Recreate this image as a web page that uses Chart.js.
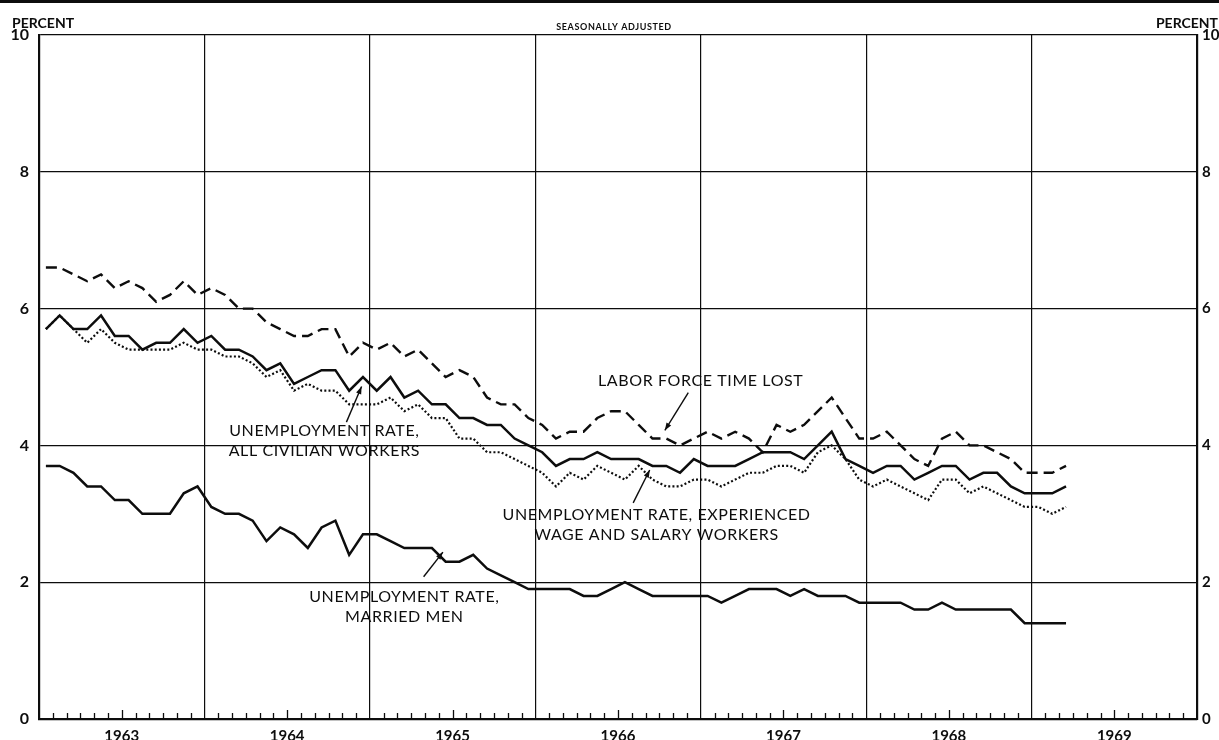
<!DOCTYPE html>
<html>
<head>
<meta charset="utf-8">
<script src="https://cdn.jsdelivr.net/npm/chart.js@4.4.1/dist/chart.umd.min.js"></script>
<style>
  html, body { margin: 0; padding: 0; background: #fff; }
  #wrap { position: relative; width: 1219px; height: 740px; overflow: hidden; }
  canvas { display: block; }
</style>
</head>
<body>
<div id="wrap"><canvas id="chart" width="1219" height="740"></canvas></div>
<script>
// monthly values, Jan 1963 - Mar 1969 (seasonally adjusted, percent)
const yearLabels = ['1963', '1964', '1965', '1966', '1967', '1968', '1969']
const yTicks = [0, 2, 4, 6, 8, 10]

const laborForceTimeLost = [
  6.6, 6.6, 6.5, 6.4, 6.5, 6.3, 6.4, 6.3, 6.1, 6.2, 6.4, 6.2,
  6.3, 6.2, 6.0, 6.0, 5.8, 5.7, 5.6, 5.6, 5.7, 5.7, 5.3, 5.5,
  5.4, 5.5, 5.3, 5.4, 5.2, 5.0, 5.1, 5.0, 4.7, 4.6, 4.6, 4.4,
  4.3, 4.1, 4.2, 4.2, 4.4, 4.5, 4.5, 4.3, 4.1, 4.1, 4.0, 4.1,
  4.2, 4.1, 4.2, 4.1, 3.9, 4.3, 4.2, 4.3, 4.5, 4.7, 4.4, 4.1,
  4.1, 4.2, 4.0, 3.8, 3.7, 4.1, 4.2, 4.0, 4.0, 3.9, 3.8, 3.6,
  3.6, 3.6, 3.7
]
const allCivilian = [
  5.7, 5.9, 5.7, 5.7, 5.9, 5.6, 5.6, 5.4, 5.5, 5.5, 5.7, 5.5,
  5.6, 5.4, 5.4, 5.3, 5.1, 5.2, 4.9, 5.0, 5.1, 5.1, 4.8, 5.0,
  4.8, 5.0, 4.7, 4.8, 4.6, 4.6, 4.4, 4.4, 4.3, 4.3, 4.1, 4.0,
  3.9, 3.7, 3.8, 3.8, 3.9, 3.8, 3.8, 3.8, 3.7, 3.7, 3.6, 3.8,
  3.7, 3.7, 3.7, 3.8, 3.9, 3.9, 3.9, 3.8, 4.0, 4.2, 3.8, 3.7,
  3.6, 3.7, 3.7, 3.5, 3.6, 3.7, 3.7, 3.5, 3.6, 3.6, 3.4, 3.3,
  3.3, 3.3, 3.4
]
const experiencedWage = [
  5.7, 5.9, 5.7, 5.5, 5.7, 5.5, 5.4, 5.4, 5.4, 5.4, 5.5, 5.4,
  5.4, 5.3, 5.3, 5.2, 5.0, 5.1, 4.8, 4.9, 4.8, 4.8, 4.6, 4.6,
  4.6, 4.7, 4.5, 4.6, 4.4, 4.4, 4.1, 4.1, 3.9, 3.9, 3.8, 3.7,
  3.6, 3.4, 3.6, 3.5, 3.7, 3.6, 3.5, 3.7, 3.5, 3.4, 3.4, 3.5,
  3.5, 3.4, 3.5, 3.6, 3.6, 3.7, 3.7, 3.6, 3.9, 4.0, 3.8, 3.5,
  3.4, 3.5, 3.4, 3.3, 3.2, 3.5, 3.5, 3.3, 3.4, 3.3, 3.2, 3.1,
  3.1, 3.0, 3.1
]
const marriedMen = [
  3.7, 3.7, 3.6, 3.4, 3.4, 3.2, 3.2, 3.0, 3.0, 3.0, 3.3, 3.4,
  3.1, 3.0, 3.0, 2.9, 2.6, 2.8, 2.7, 2.5, 2.8, 2.9, 2.4, 2.7,
  2.7, 2.6, 2.5, 2.5, 2.5, 2.3, 2.3, 2.4, 2.2, 2.1, 2.0, 1.9,
  1.9, 1.9, 1.9, 1.8, 1.8, 1.9, 2.0, 1.9, 1.8, 1.8, 1.8, 1.8,
  1.8, 1.7, 1.8, 1.9, 1.9, 1.9, 1.8, 1.9, 1.8, 1.8, 1.8, 1.7,
  1.7, 1.7, 1.7, 1.6, 1.6, 1.7, 1.6, 1.6, 1.6, 1.6, 1.6, 1.4,
  1.4, 1.4, 1.4
]

const FONT = 'Lato, "DejaVu Sans", sans-serif'
const INK = '#0d0d0d'

// points sit in the middle of each month
const toPoints = (arr) => arr.map((v, i) => ({ x: i + 0.5, y: v }))

// labels drawn on the plot, placed in data units (months, percent)
const notes = [
  { lines: ['LABOR FORCE TIME LOST'], x: 48.0, y: 4.95, arrow: [47.1, 4.77, 45.4, 4.22] },
  { lines: ['UNEMPLOYMENT RATE,', 'ALL CIVILIAN WORKERS'], x: 20.7, y: 4.21, arrow: [22.3, 4.34, 23.4, 4.86] },
  { lines: ['UNEMPLOYMENT RATE, EXPERIENCED', 'WAGE AND SALARY WORKERS'], x: 44.8, y: 2.98, arrow: [43.1, 3.16, 44.3, 3.64] },
  { lines: ['UNEMPLOYMENT RATE,', 'MARRIED MEN'], x: 26.5, y: 1.78, arrow: [27.9, 2.08, 29.3, 2.44] }
]

const drawArrow = (ctx, x1, y1, x2, y2) => {
  ctx.beginPath()
  ctx.moveTo(x1, y1)
  ctx.lineTo(x2, y2)
  ctx.stroke()
  const a = Math.atan2(y2 - y1, x2 - x1)
  const len = 8
  ctx.beginPath()
  ctx.moveTo(x2, y2)
  ctx.lineTo(x2 - len * Math.cos(a - 0.35), y2 - len * Math.sin(a - 0.35))
  ctx.lineTo(x2 - len * Math.cos(a + 0.35), y2 - len * Math.sin(a + 0.35))
  ctx.closePath()
  ctx.fill()
}

const decorPlugin = {
  id: 'decor',
  afterDraw(chart) {
    const { ctx, chartArea, scales } = chart
    const xs = scales.x, ys = scales.y
    ctx.save()
    ctx.fillStyle = INK
    ctx.strokeStyle = INK

    // scan border at the very top
    ctx.fillRect(0, 0, chart.width, 3)

    // month ticks pointing up from the base line
    ctx.lineWidth = 1.3
    for (let m = 1; m < 84; m++) {
      if (m % 12 === 0) continue
      const px = Math.round(xs.getPixelForValue(m)) + 0.5
      const h = m % 12 === 6 ? 9 : 6
      ctx.beginPath()
      ctx.moveTo(px, chartArea.bottom)
      ctx.lineTo(px, chartArea.bottom - h)
      ctx.stroke()
    }

    // axis titles
    ctx.font = 'bold 14px ' + FONT
    ctx.textBaseline = 'alphabetic'
    ctx.textAlign = 'left'
    ctx.fillText('PERCENT', 12, 28)
    ctx.textAlign = 'right'
    ctx.fillText('PERCENT', 1218, 28)

    ctx.font = 'bold 9px ' + FONT
    ctx.textAlign = 'center'
    if ('letterSpacing' in ctx) ctx.letterSpacing = '0.6px'
    ctx.fillText('SEASONALLY ADJUSTED', 614, 30)

    // series labels
    ctx.font = '16px ' + FONT
    if ('letterSpacing' in ctx) ctx.letterSpacing = '0.6px'
    ctx.textBaseline = 'middle'
    ctx.lineWidth = 1.4
    notes.forEach(n => {
      const cx = xs.getPixelForValue(n.x)
      let cy = ys.getPixelForValue(n.y)
      n.lines.forEach(t => {
        ctx.fillText(t, cx, cy)
        cy += 20
      })
      const [ax1, ay1, ax2, ay2] = n.arrow
      drawArrow(ctx, xs.getPixelForValue(ax1), ys.getPixelForValue(ay1),
                xs.getPixelForValue(ax2), ys.getPixelForValue(ay2))
    })
    ctx.restore()
  }
}

const ctx = document.getElementById('chart')

new Chart(ctx, {
  type: 'line',
  data: {
    datasets: [
      {
        label: 'Labor force time lost',
        data: toPoints(laborForceTimeLost),
        borderColor: INK,
        borderWidth: 2.4,
        borderDash: [11, 6],
        pointRadius: 0,
        tension: 0
      },
      {
        label: 'Unemployment rate, experienced wage and salary workers',
        data: toPoints(experiencedWage),
        borderColor: INK,
        borderWidth: 2.2,
        borderDash: [2, 2.2],
        pointRadius: 0,
        tension: 0
      },
      {
        label: 'Unemployment rate, all civilian workers',
        data: toPoints(allCivilian),
        borderColor: INK,
        borderWidth: 2.5,
        pointRadius: 0,
        tension: 0
      },
      {
        label: 'Unemployment rate, married men',
        data: toPoints(marriedMen),
        borderColor: INK,
        borderWidth: 2.5,
        pointRadius: 0,
        tension: 0
      }
    ]
  },
  options: {
    responsive: false,
    animation: false,
    layout: { padding: { top: 35, left: 0, right: 0, bottom: 0 } },
    plugins: {
      legend: { display: false },
      tooltip: { enabled: false }
    },
    scales: {
      x: {
        type: 'linear',
        min: 0,
        max: 84,
        afterFit: (s) => { s.height = 21 },
        ticks: {
          stepSize: 6,
          autoSkip: false,
          maxRotation: 0,
          padding: 8,
          color: INK,
          font: { family: FONT, size: 15, weight: 'bold' },
          callback: (v) => (v % 12 === 6 ? yearLabels[(v - 6) / 12] : '')
        },
        grid: {
          drawTicks: false,
          color: (c) => {
            const v = c.tick ? c.tick.value : 0
            return (v % 12 === 0 && v > 0 && v < 84) ? INK : 'rgba(0,0,0,0)'
          },
          lineWidth: 1.2
        },
        border: { display: true, color: INK, width: 2.2 }
      },
      y: {
        position: 'left',
        min: 0,
        max: 10,
        afterFit: (s) => { s.width = 39 },
        afterBuildTicks: (s) => { s.ticks = yTicks.map(v => ({ value: v })) },
        ticks: {
          padding: 10,
          color: INK,
          font: { family: FONT, size: 16, weight: 'bold' }
        },
        grid: { drawTicks: false, color: INK, lineWidth: 1.3 },
        border: { display: true, color: INK, width: 2.2 }
      },
      y2: {
        position: 'right',
        min: 0,
        max: 10,
        afterFit: (s) => { s.width = 22 },
        afterBuildTicks: (s) => { s.ticks = yTicks.map(v => ({ value: v })) },
        ticks: {
          padding: 5,
          color: INK,
          font: { family: FONT, size: 15, weight: 'bold' }
        },
        grid: { display: false, drawTicks: false },
        border: { display: true, color: INK, width: 2.2 }
      }
    }
  },
  plugins: [decorPlugin]
})
</script>
</body>
</html>
